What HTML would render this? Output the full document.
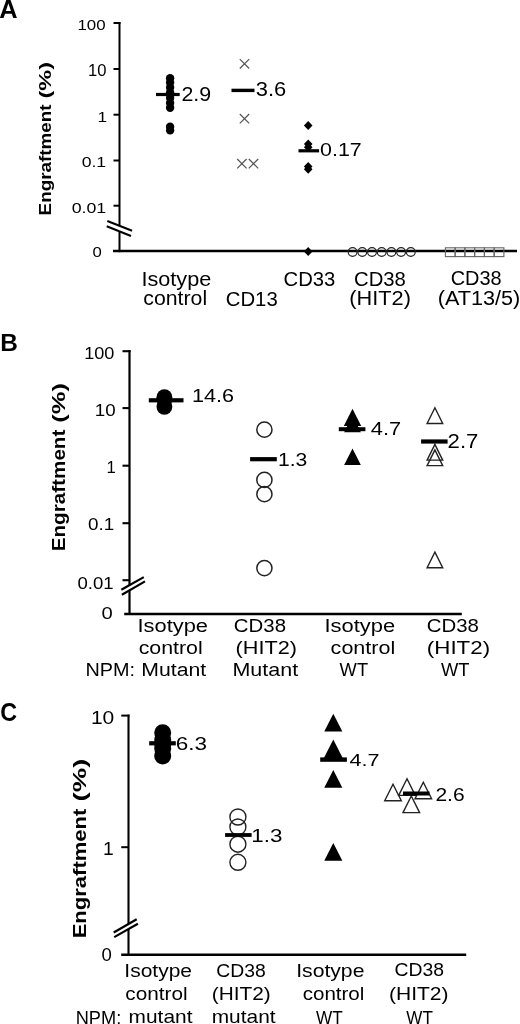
<!DOCTYPE html>
<html><head><meta charset="utf-8"><title>Engraftment</title><style>html,body{margin:0;padding:0;background:#fff;width:520px;height:1024px;overflow:hidden}svg{display:block;will-change:transform}</style></head><body>
<svg width="520" height="1024" viewBox="0 0 520 1024" font-family='"Liberation Sans", sans-serif' fill="#000"><line x1="119.5" y1="22" x2="119.5" y2="225.5" stroke="#000" stroke-width="2" stroke-linecap="butt"/>
<line x1="119.5" y1="231" x2="119.5" y2="252.2" stroke="#000" stroke-width="2" stroke-linecap="butt"/>
<line x1="113.5" y1="23" x2="120.5" y2="23" stroke="#000" stroke-width="2" stroke-linecap="butt"/>
<line x1="113.5" y1="69" x2="119.5" y2="69" stroke="#000" stroke-width="2" stroke-linecap="butt"/>
<line x1="113.5" y1="114.7" x2="119.5" y2="114.7" stroke="#000" stroke-width="2" stroke-linecap="butt"/>
<line x1="113.5" y1="160.5" x2="119.5" y2="160.5" stroke="#000" stroke-width="2" stroke-linecap="butt"/>
<line x1="113.5" y1="205.7" x2="119.5" y2="205.7" stroke="#000" stroke-width="2" stroke-linecap="butt"/>
<line x1="113" y1="251" x2="517" y2="251" stroke="#000" stroke-width="2.4" stroke-linecap="butt"/>
<line x1="107.3" y1="221" x2="132.1" y2="230.8" stroke="#000" stroke-width="2" stroke-linecap="butt"/>
<line x1="106.7" y1="226.2" x2="131" y2="236" stroke="#000" stroke-width="2" stroke-linecap="butt"/>
<circle cx="170.1" cy="78.2" r="4.2" fill="#000"/>
<circle cx="170.1" cy="82.5" r="4.2" fill="#000"/>
<circle cx="170.1" cy="87.5" r="4.2" fill="#000"/>
<circle cx="170.1" cy="92.5" r="4.2" fill="#000"/>
<circle cx="170.1" cy="98" r="4.2" fill="#000"/>
<circle cx="170.1" cy="103" r="4.2" fill="#000"/>
<circle cx="170.1" cy="107.8" r="4.2" fill="#000"/>
<circle cx="170.1" cy="126.8" r="4.2" fill="#000"/>
<circle cx="170.1" cy="130.4" r="4.2" fill="#000"/>
<rect x="156" y="92.9" width="23.7" height="3.2" fill="#000"/>
<path d="M239.8,59.1L249.2,68.5M249.2,59.1L239.8,68.5" stroke="#555" stroke-width="1.2" fill="none"/>
<path d="M239.8,114L249.2,123.4M249.2,114L239.8,123.4" stroke="#555" stroke-width="1.2" fill="none"/>
<path d="M237.2,159L246.6,168.4M246.6,159L237.2,168.4" stroke="#555" stroke-width="1.2" fill="none"/>
<path d="M248.8,159L258.2,168.4M258.2,159L248.8,168.4" stroke="#555" stroke-width="1.2" fill="none"/>
<rect x="231.5" y="88.7" width="23" height="3.4" fill="#000"/>
<polygon points="308.2,121 312.5,125.5 308.2,130 303.9,125.5" fill="#000"/>
<polygon points="308.2,139.4 312.5,143.9 308.2,148.4 303.9,143.9" fill="#000"/>
<polygon points="308.2,142.8 312.5,147.3 308.2,151.8 303.9,147.3" fill="#000"/>
<polygon points="308.2,161.9 312.5,166.4 308.2,170.9 303.9,166.4" fill="#000"/>
<polygon points="308.2,164.8 312.5,169.3 308.2,173.8 303.9,169.3" fill="#000"/>
<polygon points="308.2,247 312.5,251.5 308.2,256 303.9,251.5" fill="#000"/>
<rect x="298.5" y="149.2" width="20.6" height="3.2" fill="#000"/>
<circle cx="352.6" cy="252" r="4.4" fill="none" stroke="#222" stroke-width="1.2"/>
<circle cx="362.3" cy="252" r="4.4" fill="none" stroke="#222" stroke-width="1.2"/>
<circle cx="372" cy="252" r="4.4" fill="none" stroke="#222" stroke-width="1.2"/>
<circle cx="381.7" cy="252" r="4.4" fill="none" stroke="#222" stroke-width="1.2"/>
<circle cx="391.4" cy="252" r="4.4" fill="none" stroke="#222" stroke-width="1.2"/>
<circle cx="401.1" cy="252" r="4.4" fill="none" stroke="#222" stroke-width="1.2"/>
<circle cx="410.8" cy="252" r="4.4" fill="none" stroke="#222" stroke-width="1.2"/>
<rect x="445.4" y="247.8" width="9.75" height="8.8" fill="none" stroke="#666" stroke-width="1.1"/>
<rect x="455.15" y="247.8" width="9.75" height="8.8" fill="none" stroke="#666" stroke-width="1.1"/>
<rect x="464.9" y="247.8" width="9.75" height="8.8" fill="none" stroke="#666" stroke-width="1.1"/>
<rect x="474.65" y="247.8" width="9.75" height="8.8" fill="none" stroke="#666" stroke-width="1.1"/>
<rect x="484.4" y="247.8" width="9.75" height="8.8" fill="none" stroke="#666" stroke-width="1.1"/>
<rect x="494.15" y="247.8" width="9.75" height="8.8" fill="none" stroke="#666" stroke-width="1.1"/>
<line x1="129.5" y1="350.2" x2="129.5" y2="585.2" stroke="#000" stroke-width="2.2" stroke-linecap="butt"/>
<line x1="129.5" y1="590.6" x2="129.5" y2="615" stroke="#000" stroke-width="2.2" stroke-linecap="butt"/>
<line x1="122.5" y1="351.2" x2="130.6" y2="351.2" stroke="#000" stroke-width="2.1" stroke-linecap="butt"/>
<line x1="122.5" y1="408.1" x2="129.5" y2="408.1" stroke="#000" stroke-width="2.1" stroke-linecap="butt"/>
<line x1="122.5" y1="465.7" x2="129.5" y2="465.7" stroke="#000" stroke-width="2.1" stroke-linecap="butt"/>
<line x1="122.5" y1="523.2" x2="129.5" y2="523.2" stroke="#000" stroke-width="2.1" stroke-linecap="butt"/>
<line x1="122.5" y1="580.2" x2="129.5" y2="580.2" stroke="#000" stroke-width="2.1" stroke-linecap="butt"/>
<line x1="124.2" y1="614" x2="461.8" y2="614" stroke="#000" stroke-width="2.5" stroke-linecap="butt"/>
<line x1="121.3" y1="589.8" x2="143.8" y2="577.1" stroke="#000" stroke-width="2.2" stroke-linecap="butt"/>
<line x1="121.9" y1="594.8" x2="145" y2="581.4" stroke="#000" stroke-width="2.2" stroke-linecap="butt"/>
<circle cx="164.4" cy="397.2" r="7.9" fill="#000"/>
<circle cx="164.4" cy="399.5" r="7.9" fill="#000"/>
<circle cx="164.4" cy="406.8" r="7.9" fill="#000"/>
<rect x="148.8" y="398.2" width="34.7" height="4.2" fill="#000"/>
<circle cx="264.4" cy="429.7" r="7.6" fill="none" stroke="#222" stroke-width="1.5"/>
<circle cx="264.4" cy="479.9" r="7.6" fill="none" stroke="#222" stroke-width="1.5"/>
<circle cx="264.4" cy="494.2" r="7.6" fill="none" stroke="#222" stroke-width="1.5"/>
<circle cx="264.4" cy="568.1" r="7.6" fill="none" stroke="#222" stroke-width="1.5"/>
<rect x="250.1" y="457.1" width="26.7" height="4.2" fill="#000"/>
<polygon points="352.5,408.8 361.2,426 343.8,426" fill="#000"/>
<polygon points="352.5,415.6 360.9,432.3 344.1,432.3" fill="#000"/>
<polygon points="352.5,448.5 360.85,465 344.15,465" fill="#000"/>
<rect x="338.8" y="427.2" width="26.6" height="4" fill="#000"/>
<polygon points="434.9,407.8 442.7,423.5 427.1,423.5" fill="none" stroke="#222" stroke-width="1.4" stroke-linejoin="miter"/>
<polygon points="434.9,444.4 442.7,460.1 427.1,460.1" fill="none" stroke="#222" stroke-width="1.4" stroke-linejoin="miter"/>
<polygon points="434.9,449.9 442.7,465.6 427.1,465.6" fill="none" stroke="#222" stroke-width="1.4" stroke-linejoin="miter"/>
<polygon points="434.9,552.1 442.7,567.8 427.1,567.8" fill="none" stroke="#222" stroke-width="1.4" stroke-linejoin="miter"/>
<rect x="421.1" y="439.4" width="26.5" height="4.2" fill="#000"/>
<line x1="128.5" y1="714.6" x2="128.5" y2="923.9" stroke="#000" stroke-width="2.1" stroke-linecap="butt"/>
<line x1="128.5" y1="929.3" x2="128.5" y2="955.8" stroke="#000" stroke-width="2.1" stroke-linecap="butt"/>
<line x1="121.25" y1="715.6" x2="129.55" y2="715.6" stroke="#000" stroke-width="2" stroke-linecap="butt"/>
<line x1="121.25" y1="847.2" x2="128.5" y2="847.2" stroke="#000" stroke-width="2" stroke-linecap="butt"/>
<line x1="121.2" y1="954.8" x2="466.2" y2="954.8" stroke="#000" stroke-width="2.5" stroke-linecap="butt"/>
<line x1="113.7" y1="932.5" x2="136.7" y2="919.2" stroke="#000" stroke-width="2.2" stroke-linecap="butt"/>
<line x1="114.2" y1="937.1" x2="137.9" y2="923.8" stroke="#000" stroke-width="2.2" stroke-linecap="butt"/>
<circle cx="162.7" cy="732.7" r="8.5" fill="#000"/>
<circle cx="162.7" cy="740" r="8.5" fill="#000"/>
<circle cx="162.7" cy="744.5" r="8.5" fill="#000"/>
<circle cx="162.7" cy="748.5" r="8.5" fill="#000"/>
<circle cx="162.7" cy="756.1" r="8.5" fill="#000"/>
<rect x="149.2" y="741.2" width="26.6" height="4.2" fill="#000"/>
<circle cx="237.9" cy="817" r="8" fill="none" stroke="#222" stroke-width="1.4"/>
<circle cx="237.9" cy="827" r="8" fill="none" stroke="#222" stroke-width="1.4"/>
<circle cx="237.9" cy="844.2" r="8" fill="none" stroke="#222" stroke-width="1.4"/>
<circle cx="237.9" cy="862.3" r="8" fill="none" stroke="#222" stroke-width="1.4"/>
<rect x="225.1" y="833.1" width="26.5" height="3.8" fill="#000"/>
<polygon points="333.3,713.8 342.35,731.5 324.25,731.5" fill="#000"/>
<polygon points="333.3,739.6 342.7,758 323.9,758" fill="#000"/>
<polygon points="333.3,770 342.35,787.7 324.25,787.7" fill="#000"/>
<polygon points="333.3,843.1 342.35,860.8 324.25,860.8" fill="#000"/>
<rect x="320.2" y="757.4" width="26.7" height="4.4" fill="#000"/>
<polygon points="393,784.2 401.3,800.8 384.7,800.8" fill="none" stroke="#222" stroke-width="1.4" stroke-linejoin="miter"/>
<polygon points="407,778.8 415.3,795.4 398.7,795.4" fill="none" stroke="#222" stroke-width="1.4" stroke-linejoin="miter"/>
<polygon points="423.3,782.2 431.6,798.8 415,798.8" fill="none" stroke="#222" stroke-width="1.4" stroke-linejoin="miter"/>
<polygon points="411.3,796 419.6,812.6 403,812.6" fill="none" stroke="#222" stroke-width="1.4" stroke-linejoin="miter"/>
<rect x="403" y="791.5" width="26.5" height="4" fill="#000"/>
<text x="-0.63" y="17.6" font-size="26.23" font-weight="bold" textLength="18.32" lengthAdjust="spacingAndGlyphs">A</text>
<text x="77.48" y="30.3" font-size="15.14" textLength="28.17" lengthAdjust="spacingAndGlyphs">100</text>
<text x="87.95" y="75.9" font-size="16.14" textLength="18.46" lengthAdjust="spacingAndGlyphs">10</text>
<text x="97.46" y="121.5" font-size="15.00" textLength="9.59" lengthAdjust="spacingAndGlyphs">1</text>
<text x="81.68" y="167" font-size="15.00" textLength="24.51" lengthAdjust="spacingAndGlyphs">0.1</text>
<text x="71.68" y="212.6" font-size="15.14" textLength="34.54" lengthAdjust="spacingAndGlyphs">0.01</text>
<text x="92.62" y="257.3" font-size="15.14" textLength="9.29" lengthAdjust="spacingAndGlyphs">0</text>
<text x="181.43" y="100.8" font-size="20.43" textLength="29.74" lengthAdjust="spacingAndGlyphs">2.9</text>
<text x="255.73" y="96.2" font-size="19.86" textLength="30.45" lengthAdjust="spacingAndGlyphs">3.6</text>
<text x="320.05" y="156" font-size="18.57" textLength="41.74" lengthAdjust="spacingAndGlyphs">0.17</text>
<text x="141.45" y="285.7" font-size="19.57" textLength="69.8" lengthAdjust="spacingAndGlyphs">Isotype</text>
<text x="143.35" y="305.2" font-size="19.57" textLength="63.76" lengthAdjust="spacingAndGlyphs">control</text>
<text x="225.78" y="306.2" font-size="20.14" textLength="51.96" lengthAdjust="spacingAndGlyphs">CD13</text>
<text x="283.59" y="286.2" font-size="20.14" textLength="51.76" lengthAdjust="spacingAndGlyphs">CD33</text>
<text x="353.99" y="286" font-size="19.42" textLength="51.86" lengthAdjust="spacingAndGlyphs">CD38</text>
<text x="349.3" y="305.3" font-size="19.57" textLength="61.57" lengthAdjust="spacingAndGlyphs">(HIT2)</text>
<text x="450.7" y="285.4" font-size="19.42" textLength="50.93" lengthAdjust="spacingAndGlyphs">CD38</text>
<text x="437.7" y="305.3" font-size="19.57" textLength="82.62" lengthAdjust="spacingAndGlyphs">(AT13/5)</text>
<text x="0.31" y="351.3" font-size="24.49" font-weight="bold" textLength="17.61" lengthAdjust="spacingAndGlyphs">B</text>
<text x="84.24" y="358.75" font-size="16.07" textLength="30.2" lengthAdjust="spacingAndGlyphs">100</text>
<text x="94.84" y="416" font-size="16.57" textLength="20.86" lengthAdjust="spacingAndGlyphs">10</text>
<text x="106.5" y="473.1" font-size="16.57" textLength="9.27" lengthAdjust="spacingAndGlyphs">1</text>
<text x="88.14" y="530" font-size="16.43" textLength="26.21" lengthAdjust="spacingAndGlyphs">0.1</text>
<text x="77.45" y="588.5" font-size="16.14" textLength="36.11" lengthAdjust="spacingAndGlyphs">0.01</text>
<text x="101.59" y="619.2" font-size="16.43" textLength="11.24" lengthAdjust="spacingAndGlyphs">0</text>
<text x="191.98" y="402.4" font-size="18.86" textLength="42.12" lengthAdjust="spacingAndGlyphs">14.6</text>
<text x="278.02" y="465.8" font-size="17.57" textLength="29.33" lengthAdjust="spacingAndGlyphs">1.3</text>
<text x="370.76" y="434.6" font-size="18.57" textLength="30.33" lengthAdjust="spacingAndGlyphs">4.7</text>
<text x="447.59" y="448.1" font-size="19.29" textLength="30.82" lengthAdjust="spacingAndGlyphs">2.7</text>
<text x="137.53" y="631.9" font-size="18.26" textLength="70.43" lengthAdjust="spacingAndGlyphs">Isotype</text>
<text x="138.65" y="653.5" font-size="19.13" textLength="64.07" lengthAdjust="spacingAndGlyphs">control</text>
<text x="141.3" y="675.7" font-size="18.41" textLength="64.85" lengthAdjust="spacingAndGlyphs">Mutant</text>
<text x="85.51" y="675.8" font-size="18.99" textLength="49.57" lengthAdjust="spacingAndGlyphs">NPM:</text>
<text x="233.88" y="632" font-size="18.99" textLength="52.17" lengthAdjust="spacingAndGlyphs">CD38</text>
<text x="235.6" y="653.5" font-size="18.84" textLength="61.36" lengthAdjust="spacingAndGlyphs">(HIT2)</text>
<text x="232.48" y="675.8" font-size="18.84" textLength="65.67" lengthAdjust="spacingAndGlyphs">Mutant</text>
<text x="324.53" y="632" font-size="18.99" textLength="70.64" lengthAdjust="spacingAndGlyphs">Isotype</text>
<text x="330.64" y="653.5" font-size="19.13" textLength="64.59" lengthAdjust="spacingAndGlyphs">control</text>
<text x="339.61" y="675.8" font-size="18.84" textLength="28.45" lengthAdjust="spacingAndGlyphs">WT</text>
<text x="426.68" y="632" font-size="19.13" textLength="52.17" lengthAdjust="spacingAndGlyphs">CD38</text>
<text x="426.86" y="653.8" font-size="19.28" textLength="63.23" lengthAdjust="spacingAndGlyphs">(HIT2)</text>
<text x="441.01" y="676.2" font-size="19.13" textLength="28.55" lengthAdjust="spacingAndGlyphs">WT</text>
<text x="0.32" y="721" font-size="26.45" font-weight="bold" textLength="16.81" lengthAdjust="spacingAndGlyphs">C</text>
<text x="90.92" y="723.75" font-size="18.79" textLength="23.36" lengthAdjust="spacingAndGlyphs">10</text>
<text x="102.96" y="855" font-size="17.86" textLength="10.68" lengthAdjust="spacingAndGlyphs">1</text>
<text x="101.45" y="961.3" font-size="18.00" textLength="10.32" lengthAdjust="spacingAndGlyphs">0</text>
<text x="175.77" y="749.9" font-size="18.00" textLength="31.33" lengthAdjust="spacingAndGlyphs">6.3</text>
<text x="251.32" y="842" font-size="17.71" textLength="31.07" lengthAdjust="spacingAndGlyphs">1.3</text>
<text x="349.57" y="766.2" font-size="16.57" textLength="30.01" lengthAdjust="spacingAndGlyphs">4.7</text>
<text x="435.45" y="800.6" font-size="18.43" textLength="29.19" lengthAdjust="spacingAndGlyphs">2.6</text>
<text x="124.31" y="976.8" font-size="18.26" textLength="67.72" lengthAdjust="spacingAndGlyphs">Isotype</text>
<text x="125.37" y="999.8" font-size="18.26" textLength="62.21" lengthAdjust="spacingAndGlyphs">control</text>
<text x="128.64" y="1022.8" font-size="18.26" textLength="63.81" lengthAdjust="spacingAndGlyphs">mutant</text>
<text x="75.74" y="1023.6" font-size="18.26" textLength="45.49" lengthAdjust="spacingAndGlyphs">NPM:</text>
<text x="216.33" y="976.8" font-size="17.54" textLength="49.47" lengthAdjust="spacingAndGlyphs">CD38</text>
<text x="211.85" y="1000.2" font-size="18.26" textLength="58.96" lengthAdjust="spacingAndGlyphs">(HIT2)</text>
<text x="211.74" y="1022.8" font-size="18.26" textLength="63.81" lengthAdjust="spacingAndGlyphs">mutant</text>
<text x="296.2" y="976.8" font-size="18.84" textLength="68.24" lengthAdjust="spacingAndGlyphs">Isotype</text>
<text x="302.68" y="1000" font-size="18.55" textLength="61.69" lengthAdjust="spacingAndGlyphs">control</text>
<text x="315.91" y="1024.1" font-size="18.26" textLength="26.72" lengthAdjust="spacingAndGlyphs">WT</text>
<text x="394.63" y="976.3" font-size="17.54" textLength="49.47" lengthAdjust="spacingAndGlyphs">CD38</text>
<text x="388.94" y="1000.2" font-size="18.26" textLength="59.58" lengthAdjust="spacingAndGlyphs">(HIT2)</text>
<text x="406.31" y="1024" font-size="18.26" textLength="26.52" lengthAdjust="spacingAndGlyphs">WT</text>
<text transform="translate(51.2,215.43) rotate(-90)" x="0" y="0" font-size="16.23" font-weight="bold" textLength="111" lengthAdjust="spacingAndGlyphs">Engraftment</text>
<text transform="translate(51.2,98.47) rotate(-90)" x="0" y="0" font-size="16.23" font-weight="bold" textLength="36.43" lengthAdjust="spacingAndGlyphs">(%)</text>
<text transform="translate(65.4,551.34) rotate(-90)" x="0" y="0" font-size="17.83" font-weight="bold" textLength="121.73" lengthAdjust="spacingAndGlyphs">Engraftment</text>
<text transform="translate(65.4,422.78) rotate(-90)" x="0" y="0" font-size="17.83" font-weight="bold" textLength="39.73" lengthAdjust="spacingAndGlyphs">(%)</text>
<text transform="translate(85.8,938.33) rotate(-90)" x="0" y="0" font-size="18.99" font-weight="bold" textLength="129.73" lengthAdjust="spacingAndGlyphs">Engraftment</text>
<text transform="translate(85.8,801.38) rotate(-90)" x="0" y="0" font-size="18.99" font-weight="bold" textLength="42.82" lengthAdjust="spacingAndGlyphs">(%)</text></svg>
</body></html>
